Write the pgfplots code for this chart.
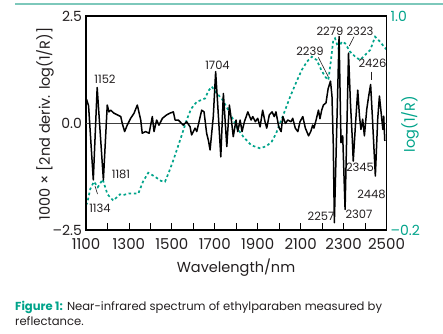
\documentclass[border=0pt]{standalone}
\usepackage{fontspec}
\setmainfont{Poppins}
\usepackage{pgfplots}
\pgfplotsset{compat=1.18}
\definecolor{tealA}{RGB}{0,163,138}
\definecolor{tealrule}{RGB}{125,200,187}
\definecolor{txt}{RGB}{35,31,32}
\begin{document}
\begin{tikzpicture}[x=1pt,y=1pt]
\useasboundingbox (0,0) rectangle (443,333);
\fill[tealrule] (15,327.5) rectangle (443,330);
% right axis: log(1/R)
\begin{axis}[
  at={(86pt,103pt)}, anchor=south west, scale only axis,
  width=300.5pt, height=214pt,
  xmin=1100, xmax=2500, ymin=-0.2, ymax=1.0,
  axis x line=none, axis y line*=right,
  y axis line style={draw=none},
  ytick={-0.2,1.0}, yticklabels={–0.2,1.0},
  ytick style={draw=none},
  yticklabel style={font=\fontsize{14}{14}\selectfont, text=tealA, inner sep=1pt, xshift=3pt},
  extra y ticks={-0.2}, extra y tick labels={},
]
\addplot[tealA, line width=1.7pt, dash pattern=on 2.6pt off 2.6pt] coordinates {
(1100,-0.06)(1106,-0.047)(1120,0.03)(1137,0.071)(1155,0.04)(1178,0.084)(1200,0.0)(1227,-0.035)(1258,0.0)(1274,-0.004)(1300,0.005)(1344,0.005)(1365,0.07)(1390,0.121)(1420,0.10)(1450,0.075)(1468,0.071)(1485,0.12)(1507,0.192)(1540,0.31)(1569,0.417)(1590,0.48)(1616,0.519)(1640,0.53)(1655,0.538)(1670,0.58)(1686,0.604)(1709,0.566)(1732,0.538)(1755,0.49)(1779,0.435)(1805,0.37)(1833,0.323)(1870,0.275)(1911,0.258)(1940,0.27)(1965,0.295)(1985,0.34)(2004,0.398)(2030,0.48)(2051,0.547)(2080,0.63)(2105,0.697)(2130,0.745)(2152,0.772)(2175,0.753)(2195,0.70)(2214,0.66)(2229,0.641)(2240,0.74)(2252,0.865)(2260,0.875)(2276,0.819)(2292,0.856)(2307,0.847)(2330,0.80)(2354,0.772)(2377,0.753)(2395,0.775)(2408,0.791)(2424,0.809)(2447,0.884)(2470,0.856)(2490,0.825)(2500,0.813)
};
\end{axis}
% left axis: 2nd derivative
\begin{axis}[
  at={(86pt,103pt)}, anchor=south west, scale only axis,
  width=300.5pt, height=214pt,
  xmin=1100, xmax=2500, ymin=-2.5, ymax=2.5,
  xtick={1100,1300,...,2500}, minor xtick={1200,1400,...,2400},
  xtick pos=bottom, ytick pos=left,
  ytick={-2.5,0,2.5}, yticklabels={–2.5,0.0,2.5},
  major tick length=7pt, minor tick length=7pt, tick align=inside,
  ytick style={draw=none},
  xtick style={black, line width=0.8pt},
  minor x tick style={black, line width=0.8pt},
  axis line style={line width=1.2pt},
  /pgf/number format/1000 sep={},
  /pgf/number format/assume math mode=true,
  tick label style={font=\fontsize{14}{14}\selectfont, text=txt},
  yticklabel style={inner sep=1pt, xshift=-3pt},
  xticklabel style={font=\fontsize{15}{15}\selectfont, inner sep=1pt, yshift=-7pt},
]
\draw[black!75, line width=0.8pt] (axis cs:1100,0) -- (axis cs:2500,0);
\addplot[black, line width=1.5pt, line join=round] coordinates {
(1103,0.55)(1112,0.40)(1134,-1.33)(1152,0.83)(1181,-1.33)(1199,0.42)(1207,0.26)(1215,0.30)(1230,0.23)(1246,0.19)(1262,0.15)(1269,-0.01)(1280,-0.20)(1292,-0.05)(1308,0.11)(1324,0.23)(1339,0.42)(1355,0.07)(1362,-0.24)(1378,-0.20)(1394,-0.24)(1409,0.15)(1417,-0.20)(1429,0.07)(1440,-0.05)(1456,0.11)(1476,0.19)(1491,0.23)(1507,0.26)(1515,0.07)(1530,0.07)(1553,-0.05)(1569,0.03)(1585,-0.09)(1592,-0.28)(1608,-0.12)(1616,-0.20)(1639,0.30)(1650,0.26)(1662,-0.24)(1670,-0.40)(1678,-0.63)(1693,0.15)(1704,1.20)(1717,0.15)(1728,-0.79)(1740,0.69)(1756,-0.55)(1768,0.42)(1779,0.00)(1786,-0.32)(1799,0.07)(1807,-0.20)(1818,0.07)(1827,-0.20)(1838,0.03)(1854,0.26)(1869,0.07)(1877,0.15)(1889,0.03)(1900,0.11)(1911,-0.09)(1923,0.30)(1934,0.03)(1942,-0.12)(1954,0.19)(1967,0.26)(1977,0.15)(1985,0.26)(1998,-0.09)(2009,-0.20)(2017,0.15)(2029,-0.01)(2040,0.07)(2055,0.03)(2063,0.11)(2075,-0.12)(2087,-0.20)(2097,0.03)(2110,0.15)(2122,-0.12)(2137,-0.30)(2147,-0.20)(2156,-0.05)(2162,-0.12)(2172,0.07)(2183,0.30)(2190,0.10)(2198,0.30)(2206,0.42)(2218,0.47)(2228,0.80)(2239,0.98)(2246,0.63)(2252,-0.50)(2257,-2.33)(2279,2.02)(2288,-0.46)(2296,-0.30)(2307,-2.02)(2323,1.63)(2332,0.47)(2340,-0.30)(2345,-0.89)(2355,-0.07)(2366,0.77)(2374,0.16)(2381,-0.15)(2389,0.09)(2397,-0.30)(2408,0.32)(2417,0.63)(2426,0.90)(2434,0.16)(2448,-1.24)(2459,0.09)(2467,0.63)(2475,0.24)(2483,-0.15)(2487,0.16)(2492,-0.42)
};
\end{axis}
% peak labels
\begin{scope}[every node/.style={font=\fontsize{11.5}{11.5}\selectfont, text=txt, inner sep=0pt}]
\node at (105,254) {1152};
\node at (121,159) {1181};
\node at (100,125) {1134};
\node at (217.5,267.5) {1704};
\node at (310,282) {2239};
\node at (330,302) {2279};
\node at (360,302) {2323};
\node at (372.5,270) {2426};
\node at (360,166) {2345};
\node at (371.5,139) {2448};
\node at (359,119) {2307};
\node at (321,116.5) {2257};
\end{scope}
\draw[txt, line width=0.6pt] (95,147) -- (97.5,139);
\draw[txt, line width=0.6pt] (318.3,275.7) -- (328.3,256.3);
\draw[txt, line width=0.6pt] (354,296.3) -- (349.3,287);
\draw[txt, line width=0.6pt] (371.7,261.3) -- (371.7,253);
% axis labels
\node[font=\fontsize{14.5}{14.5}\selectfont, text=txt] at (236,65.5) {Wavelength/nm};
\node[font=\fontsize{14.5}{14.5}\selectfont, text=txt, rotate=90] at (45,209) {1000 × [2nd deriv. log(1/R)]};
\node[font=\fontsize{14.5}{14.5}\selectfont, text=tealA, rotate=90] at (410,209) {log(1/R)};
% caption
\node[anchor=base west, inner sep=0pt, font=\fontsize{11.6}{11.6}\selectfont, text=txt] at (15,23) {{\color{tealA}\bfseries Figure 1:} Near-infrared spectrum of ethylparaben measured by};
\node[anchor=base west, inner sep=0pt, font=\fontsize{11.6}{11.6}\selectfont, text=txt] at (15,8) {reflectance.};
\end{tikzpicture}
\end{document}
